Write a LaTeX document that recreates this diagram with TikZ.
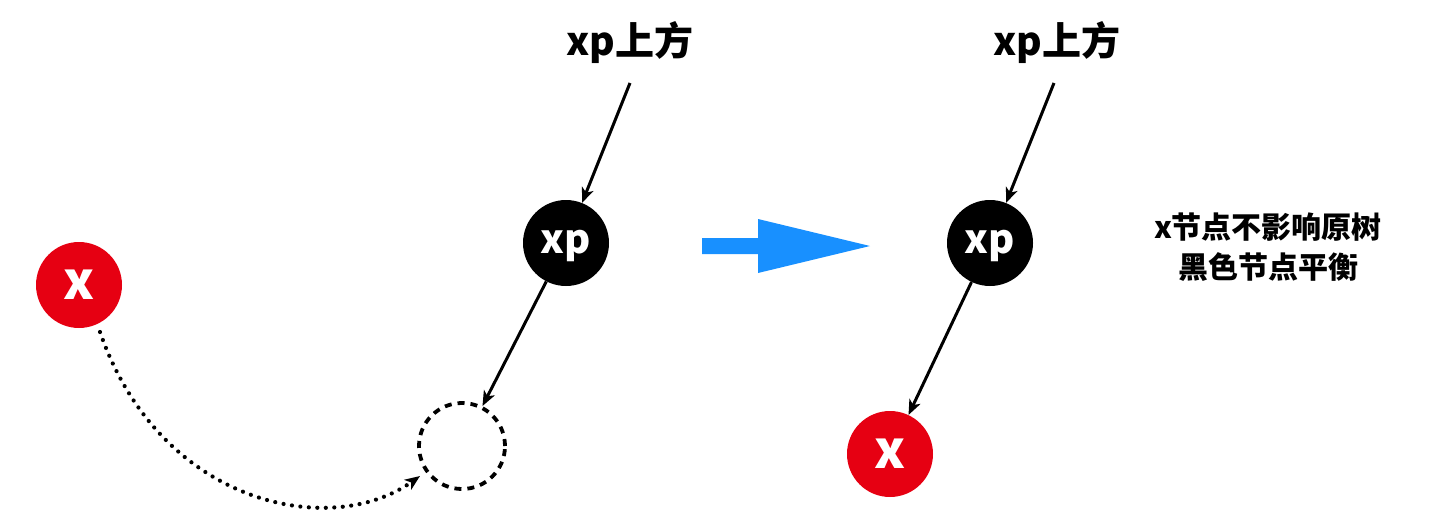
\documentclass[tikz,border=0pt]{standalone}
\usepackage{fontspec}
\setmainfont{Noto Sans CJK SC}
\usetikzlibrary{arrows.meta}
\definecolor{nodered}{HTML}{E60012}
\definecolor{arrowblue}{HTML}{1890FF}
\newcommand{\centx}[1]{\raisebox{-0.27em}[0pt][0pt]{#1}}
\begin{document}
\begin{tikzpicture}[x=1pt,y=-1pt,
  blacknode/.style={circle,fill=black,minimum size=86pt,inner sep=0pt,text=white,font=\fontsize{40}{42}\selectfont\bfseries},
  rednode/.style={circle,fill=nodered,minimum size=86pt,inner sep=0pt,text=white,font=\fontsize{52}{54}\selectfont\bfseries},
  ghostnode/.style={circle,draw=black,line width=3.8pt,dash pattern=on 7pt off 6pt,minimum size=86pt,inner sep=0pt},
  title/.style={font=\fontsize{39}{42}\selectfont\bfseries,inner sep=0pt},
  note/.style={font=\fontsize{30}{40}\selectfont\bfseries,inner sep=0pt,align=center},
  link/.style={line width=3pt,-{Stealth[length=15pt,width=12pt,inset=4pt]}},
  movepath/.style={line width=4.2pt,line cap=round,dash pattern=on 0pt off 8.5pt,-{Stealth[length=15pt,width=12pt,inset=4pt]}}
]
\useasboundingbox (0,0) rectangle (1432,530);
% left part
\node[title] (t1) at (630,43) {xp上方};
\coordinate (t1s) at (630,83);
\node[blacknode] (xp1) at (566,243) {\centx{xp}};
\node[ghostnode] (g) at (462,446) {};
\node[rednode] (x1) at (79,285) {\centx{x}};
\draw[link] (t1s) -- (xp1);
\draw[link] (xp1) -- (g);
\coordinate (ds) at (100,332);
\coordinate (de) at (420,476);
\draw[movepath] (ds) .. controls (160,505) and (330,540) .. (de);
% big blue arrow
\fill[arrowblue] (702,238) -- (758,238) -- (758,219) -- (870,246) -- (758,273) -- (758,254) -- (702,254) -- cycle;
% right part
\node[title] (t2) at (1057,43) {xp上方};
\coordinate (t2s) at (1054,83);
\node[blacknode] (xp2) at (990,243) {\centx{xp}};
\node[rednode] (x2) at (890,454) {\centx{x}};
\draw[link] (t2s) -- (xp2);
\draw[link] (xp2) -- (x2);
\node[note] (n) at (1268,247) {x节点不影响原树\\黑色节点平衡};
\end{tikzpicture}
\end{document}
